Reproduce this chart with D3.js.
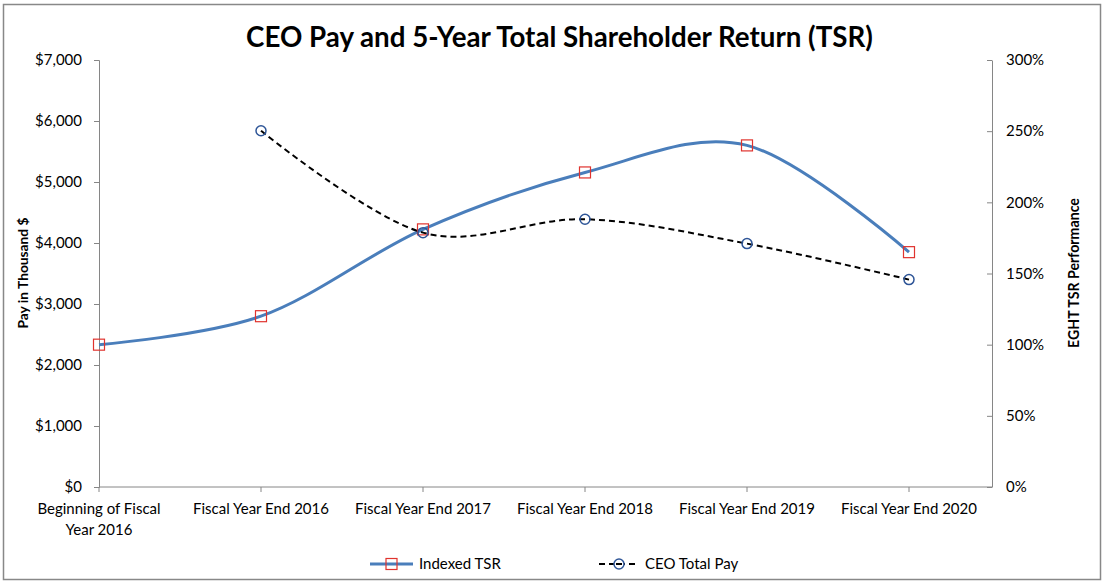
<!DOCTYPE html>
<html><head><meta charset="utf-8">
<script src="https://cdn.jsdelivr.net/npm/d3@7"></script>
<style>
body{margin:0;background:#fff;}
svg{display:block;font-family:Lato,"Open Sans",sans-serif;}
</style></head>
<body>
<svg id="chart" width="1104" height="582"></svg>
<script>
const categories = ["Beginning of Fiscal Year 2016","Fiscal Year End 2016","Fiscal Year End 2017","Fiscal Year End 2018","Fiscal Year End 2019","Fiscal Year End 2020"];
const categoryLines = [["Beginning of Fiscal","Year 2016"],["Fiscal Year End 2016"],["Fiscal Year End 2017"],["Fiscal Year End 2018"],["Fiscal Year End 2019"],["Fiscal Year End 2020"]];
const indexedTSR = [100, 120, 181, 221, 240, 165];
const ceoTotalPay = [null, 5840, 4170, 4390, 3990, 3400];
const payTicks = [0,1000,2000,3000,4000,5000,6000,7000];
const tsrTicks = [0,50,100,150,200,250,300];

(function(){
const svg = d3.select("#chart");
const plotLeft = 99, plotTop = 60, plotBottom = 487;
const x = d3.scalePoint().domain(categories).range([plotLeft, 909]);
const rightX = x(categories[categories.length-1]) + x.step()/2 + 2;
const yPay = d3.scaleLinear().domain([0,7000]).range([plotBottom, plotTop]);
const yTSR = d3.scaleLinear().domain([0,300]).range([plotBottom, plotTop]);
const axisColor = "#868686";
const fs = 15;

function fit(sel, base, target){
  const w = sel.node().getComputedTextLength();
  sel.attr("font-size", base*target/w);
}

// border
svg.append("rect").attr("x",3.5).attr("y",4.5).attr("width",1097).attr("height",575)
  .attr("fill","#fff").attr("stroke","#888").attr("stroke-width",1.5);

// title
const title = svg.append("text").attr("x",559.5).attr("y",47).attr("text-anchor","middle")
  .attr("font-weight","bold").attr("font-size",24).attr("fill","#000")
  .text("CEO Pay and 5-Year Total Shareholder Return (TSR)");
fit(title, 24, 627);

// left axis
const gL = svg.append("g").attr("transform",`translate(${plotLeft},0)`)
  .call(d3.axisLeft(yPay).tickValues(payTicks).tickFormat(d3.format("$,")).tickSizeOuter(0).tickSize(5).tickPadding(12));
gL.selectAll("text").attr("font-size",fs).attr("fill","#000").attr("font-family","Lato");
gL.selectAll("line,path").attr("stroke",axisColor);

// right axis
const gR = svg.append("g").attr("transform",`translate(${rightX},0)`)
  .call(d3.axisRight(yTSR).tickValues(tsrTicks).tickFormat(d=>d+"%").tickSizeOuter(0).tickSizeInner(-5).tickPadding(14));
gR.selectAll("text").attr("font-size",fs).attr("fill","#000").attr("font-family","Lato");
gR.selectAll("line,path").attr("stroke",axisColor);

// x axis
const gX = svg.append("g").attr("transform",`translate(0,${plotBottom})`);
gX.append("line").attr("x1",plotLeft).attr("x2",rightX).attr("stroke",axisColor);
gX.selectAll("line.tick").data(categories).join("line").attr("class","tick")
  .attr("x1",d=>x(d)).attr("x2",d=>x(d)).attr("y1",0).attr("y2",5).attr("stroke",axisColor);
categories.forEach((c,i)=>{
  const t = gX.append("text").attr("text-anchor","middle").attr("font-size",fs).attr("fill","#000");
  categoryLines[i].forEach((ln,j)=>{
    t.append("tspan").attr("x",x(c)).attr("y",27+j*21).text(ln);
  });
});

// axis titles
const tL = svg.append("text").attr("transform","translate(28,273) rotate(-90)").attr("text-anchor","middle")
  .attr("font-weight","bold").attr("font-size",12).text("Pay in Thousand $");
fit(tL, 12, 111);
const tR = svg.append("text").attr("transform","translate(1079,273) rotate(-90)").attr("text-anchor","middle")
  .attr("font-weight","bold").attr("font-size",12).text("EGHT TSR Performance");
fit(tR, 12, 150);

// TSR line
const tsrPts = categories.map((c,i)=>[x(c), yTSR(indexedTSR[i])]);
svg.append("path").attr("d", d3.line().curve(d3.curveCatmullRom.alpha(0))(tsrPts))
  .attr("fill","none").attr("stroke","#4a7ebb").attr("stroke-width",3);

// CEO pay line
const payPts = categories.map((c,i)=>[x(c), ceoTotalPay[i]]).filter(d=>d[1]!=null).map(d=>[d[0], yPay(d[1])]);
svg.append("path").attr("d", d3.line().curve(d3.curveCatmullRom.alpha(0))(payPts))
  .attr("fill","none").attr("stroke","#000").attr("stroke-width",2).attr("stroke-dasharray","6,4");

// markers
svg.selectAll("rect.tsr").data(tsrPts).join("rect").attr("class","tsr")
  .attr("x",d=>d[0]-5.5).attr("y",d=>d[1]-5.5).attr("width",11).attr("height",11)
  .attr("fill","none").attr("stroke","#e0332e").attr("stroke-width",1.2);
svg.selectAll("circle.pay").data(payPts).join("circle").attr("class","pay")
  .attr("cx",d=>d[0]).attr("cy",d=>d[1]).attr("r",5)
  .attr("fill","none").attr("stroke","#2e5597").attr("stroke-width",1.5);

// legend
const lg = svg.append("g");
lg.append("line").attr("x1",370).attr("x2",413).attr("y1",564).attr("y2",564).attr("stroke","#4a7ebb").attr("stroke-width",3);
lg.append("rect").attr("x",386).attr("y",558.5).attr("width",11).attr("height",11).attr("fill","none").attr("stroke","#e0332e").attr("stroke-width",1.2);
lg.append("text").attr("x",419).attr("y",569).attr("font-size",fs).text("Indexed TSR");
lg.append("line").attr("x1",599).attr("x2",637).attr("y1",564).attr("y2",564).attr("stroke","#000").attr("stroke-width",2).attr("stroke-dasharray","6,4");
lg.append("circle").attr("cx",619).attr("cy",564).attr("r",5).attr("fill","#fff").attr("stroke","#2e5597").attr("stroke-width",1.5);
lg.append("line").attr("x1",616).attr("x2",622).attr("y1",564).attr("y2",564).attr("stroke","#000").attr("stroke-width",2);
lg.append("text").attr("x",645).attr("y",569).attr("font-size",fs).text("CEO Total Pay");
})();
</script>
</body></html>
